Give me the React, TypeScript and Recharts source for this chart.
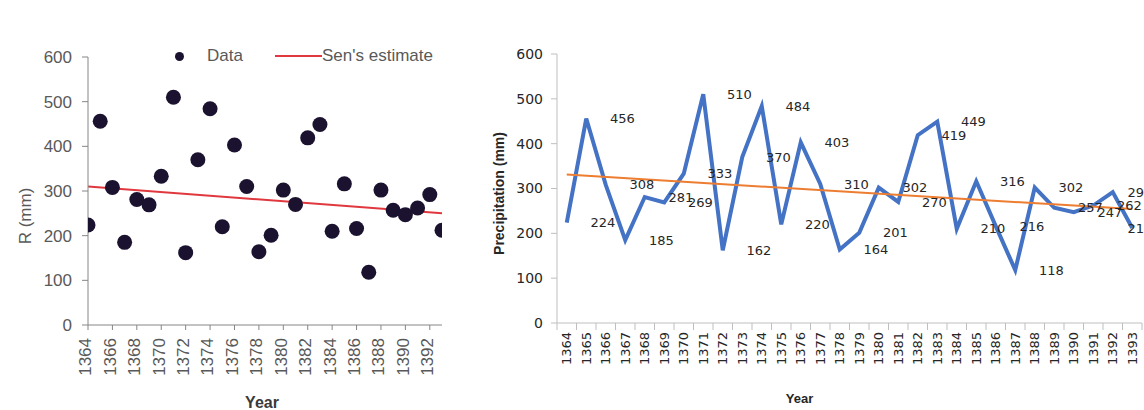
import React from "react";
import {
  ComposedChart,
  LineChart,
  Line,
  Scatter,
  XAxis,
  YAxis,
  Legend,
  LabelList,
  Label,
} from "recharts";

// ---------- data ----------
const years = [
  1364, 1365, 1366, 1367, 1368, 1369, 1370, 1371, 1372, 1373,
  1374, 1375, 1376, 1377, 1378, 1379, 1380, 1381, 1382, 1383,
  1384, 1385, 1386, 1387, 1388, 1389, 1390, 1391, 1392, 1393,
];
const precipitation = [
  224, 456, 308, 185, 281, 269, 333, 510, 162, 370,
  484, 220, 403, 310, 164, 201, 302, 270, 419, 449,
  210, 316, 216, 118, 302, 257, 247, 262, 292, 212,
];
// Sen's estimate (left panel) end values
const senStart = 310;
const senEnd = 250;
// linear trend (right panel) end values
const trendStart = 331;
const trendEnd = 254;

const leftXTicks = [1364, 1366, 1368, 1370, 1372, 1374, 1376, 1378, 1380, 1382, 1384, 1386, 1388, 1390, 1392];
const yTicks = [0, 100, 200, 300, 400, 500, 600];

const last = years.length - 1;
const chartData = years.map((year, i) => ({
  year,
  value: precipitation[i],
  sen: i === 0 ? senStart : i === last ? senEnd : null,
  trend: i === 0 ? trendStart : i === last ? trendEnd : null,
}));

// ---------- layout ----------
const LEFT_W = 460;
const H = 410;
const LEFT_MARGIN = { top: 57, right: 18, left: 0, bottom: 0 };
const LEFT_YAXIS_W = 88;
const LEFT_XAXIS_H = 85;

const RIGHT_X = 460;
const RIGHT_W = 700;
const RIGHT_MARGIN = { top: 54, right: 18, left: 0, bottom: 0 };
const RIGHT_YAXIS_W = 97;
const RIGHT_XAXIS_H = 87;
const RIGHT_PLOT_W = RIGHT_W - RIGHT_MARGIN.right - RIGHT_MARGIN.left - RIGHT_YAXIS_W;
const BAND = RIGHT_PLOT_W / years.length;
const LABEL_DX = BAND * 1.85;

const LEFT_FONT = "'Liberation Sans', Arial, sans-serif";
const LEFT_GREY = "#595959";
const RIGHT_FONT = "'DejaVu Sans', sans-serif";
const RIGHT_TEXT = "#262626";

// ---------- left panel pieces ----------
const LeftXTick = (props: any) => {
  const { x, y, payload } = props;
  return (
    <text
      x={x}
      y={y}
      transform={`rotate(-90 ${x} ${y})`}
      textAnchor="end"
      dy="0.2em"
      fill={LEFT_GREY}
      fontSize={17}
      fontFamily={LEFT_FONT}
    >
      {payload.value}
    </text>
  );
};

const Dot = (props: any) => {
  const { cx, cy } = props;
  if (cx == null || cy == null) return null;
  return <circle cx={cx} cy={cy} r={7.5} fill="#1b1230" />;
};

const LeftLegend = () => (
  <div style={{ position: "relative", width: 280, height: 24, fontFamily: LEFT_FONT, fontSize: 17, color: LEFT_GREY }}>
    <span
      style={{ position: "absolute", left: 10, top: 8, width: 9, height: 9, borderRadius: "50%", background: "#1b1230" }}
    />
    <span style={{ position: "absolute", left: 42, top: 0, lineHeight: "24px" }}>Data</span>
    <span style={{ position: "absolute", left: 110, top: 11, width: 47, height: 2, background: "#e0383e" }} />
    <span style={{ position: "absolute", left: 157, top: 0, lineHeight: "24px", whiteSpace: "nowrap" }}>Sen's estimate</span>
  </div>
);

// ---------- right panel pieces ----------
const RightXTick = (props: any) => {
  const { x, y, payload, index } = props;
  const axisY = y - 9;
  return (
    <g>
      <line x1={x - BAND / 2} y1={axisY} x2={x - BAND / 2} y2={axisY + 7} stroke="#bfbfbf" strokeWidth={1} />
      {index === years.length - 1 && (
        <line x1={x + BAND / 2} y1={axisY} x2={x + BAND / 2} y2={axisY + 7} stroke="#bfbfbf" strokeWidth={1} />
      )}
      <text
        x={x}
        y={y}
        transform={`rotate(-90 ${x} ${y})`}
        textAnchor="end"
        dy="0.35em"
        fill={RIGHT_TEXT}
        fontSize={13}
        fontFamily={RIGHT_FONT}
      >
        {payload.value}
      </text>
    </g>
  );
};

const ValueLabel = (props: any) => {
  const { x, y, value } = props;
  if (x == null || y == null) return null;
  const cx = Math.min(x + LABEL_DX, RIGHT_W - 20);
  return (
    <text x={cx} y={y} dy="0.35em" textAnchor="middle" fill={RIGHT_TEXT} fontSize={13} fontFamily={RIGHT_FONT}>
      {value}
    </text>
  );
};

export default function App() {
  return (
    <div
      style={{
        position: "absolute",
        left: 0,
        top: 0,
        width: 1144,
        height: 410,
        overflow: "hidden",
        background: "#ffffff",
      }}
    >
      {/* Left panel */}
      <div style={{ position: "absolute", left: 0, top: 0, width: LEFT_W, height: H }}>
        <ComposedChart width={LEFT_W} height={H} data={chartData} margin={LEFT_MARGIN}>
          <XAxis
            dataKey="year"
            type="number"
            domain={[1364, 1393]}
            ticks={leftXTicks}
            interval={0}
            height={LEFT_XAXIS_H}
            tickSize={5}
            tickMargin={8}
            stroke="#868686"
            tick={<LeftXTick />}
            allowDataOverflow
          >
            <Label
              content={(p: any) => {
                const vb = p.viewBox;
                return (
                  <text
                    x={vb.x + vb.width / 2 - 3}
                    y={408}
                    textAnchor="middle"
                    fontWeight="bold"
                    fontSize={16}
                    fontFamily={LEFT_FONT}
                    fill="#3a3a3a"
                  >
                    Year
                  </text>
                );
              }}
            />
          </XAxis>
          <YAxis
            type="number"
            domain={[0, 600]}
            ticks={yTicks}
            interval={0}
            width={LEFT_YAXIS_W}
            tickSize={6}
            tickMargin={10}
            stroke="#868686"
            tick={{ fill: LEFT_GREY, fontSize: 17, fontFamily: LEFT_FONT }}
          >
            <Label
              content={(p: any) => {
                const vb = p.viewBox;
                const cx = 25;
                const cy = vb.y + vb.height / 2 + 25;
                return (
                  <text
                    x={cx}
                    y={cy}
                    transform={`rotate(-90 ${cx} ${cy})`}
                    textAnchor="middle"
                    dy="0.35em"
                    fontSize={17}
                    fontFamily={LEFT_FONT}
                    fill={LEFT_GREY}
                  >
                    R (mm)
                  </text>
                );
              }}
            />
          </YAxis>
          <Legend
            verticalAlign="middle"
            layout="horizontal"
            wrapperStyle={{ left: 165, top: 44, width: 280, height: 24 }}
            content={<LeftLegend />}
          />
          <Line
            dataKey="sen"
            name="Sen's estimate"
            stroke="#e0383e"
            strokeWidth={2}
            dot={false}
            activeDot={false}
            connectNulls
            isAnimationActive={false}
          />
          <Scatter dataKey="value" name="Data" shape={<Dot />} isAnimationActive={false} />
        </ComposedChart>
      </div>

      {/* Right panel */}
      <div style={{ position: "absolute", left: RIGHT_X, top: 0, width: RIGHT_W, height: H }}>
        <LineChart width={RIGHT_W} height={H} data={chartData} margin={RIGHT_MARGIN}>
          <XAxis
            dataKey="year"
            type="category"
            interval={0}
            height={RIGHT_XAXIS_H}
            padding={{ left: BAND / 2, right: BAND / 2 }}
            tickSize={7}
            tickMargin={2}
            tickLine={false}
            axisLine={{ stroke: "#bfbfbf" }}
            tick={<RightXTick />}
          >
            <Label
              content={(p: any) => {
                const vb = p.viewBox;
                return (
                  <text
                    x={vb.x + vb.width / 2 - 50}
                    y={403}
                    textAnchor="middle"
                    fontWeight="bold"
                    fontSize={13}
                    fontFamily={LEFT_FONT}
                    fill={RIGHT_TEXT}
                  >
                    Year
                  </text>
                );
              }}
            />
          </XAxis>
          <YAxis
            type="number"
            domain={[0, 600]}
            ticks={yTicks}
            interval={0}
            width={RIGHT_YAXIS_W}
            tickSize={6}
            tickMargin={8}
            axisLine={{ stroke: "#bfbfbf" }}
            tickLine={{ stroke: "#bfbfbf" }}
            tick={{ fill: RIGHT_TEXT, fontSize: 14, fontFamily: RIGHT_FONT }}
          >
            <Label
              content={(p: any) => {
                const vb = p.viewBox;
                const cx = 39;
                const cy = vb.y + vb.height / 2 + 5;
                return (
                  <text
                    x={cx}
                    y={cy}
                    transform={`rotate(-90 ${cx} ${cy})`}
                    textAnchor="middle"
                    dy="0.35em"
                    fontWeight="bold"
                    fontSize={14}
                    fontFamily={LEFT_FONT}
                    fill={RIGHT_TEXT}
                  >
                    Precipitation (mm)
                  </text>
                );
              }}
            />
          </YAxis>
          <Line
            dataKey="value"
            stroke="#4472c4"
            strokeWidth={4}
            dot={false}
            activeDot={false}
            strokeLinejoin="miter"
            isAnimationActive={false}
          >
            <LabelList dataKey="value" content={<ValueLabel />} />
          </Line>
          <Line
            dataKey="trend"
            stroke="#ed7d31"
            strokeWidth={2}
            dot={false}
            activeDot={false}
            connectNulls
            isAnimationActive={false}
          />
        </LineChart>
      </div>
    </div>
  );
}
